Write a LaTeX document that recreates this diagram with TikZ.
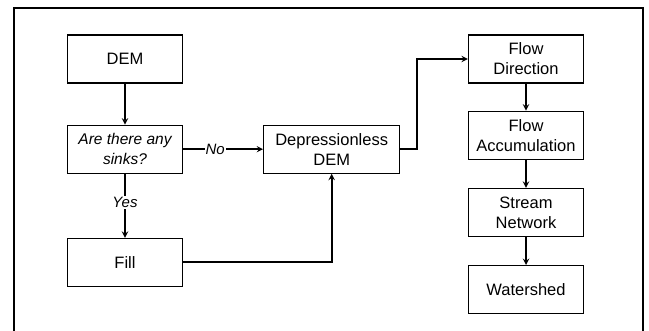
\documentclass[tikz,border=0pt]{standalone}
\usepackage{fontspec}
\setmainfont{Liberation Sans}
\usepackage{tikz}
\usetikzlibrary{arrows, positioning}

\begin{document}
\begin{tikzpicture}[
    node distance=41pt and 80pt,
    box/.style={draw, rectangle, line width=1.2pt, minimum width=115pt, minimum height=48pt, inner sep=0pt, align=center, font=\fontsize{16.5}{20}\selectfont},
    arrow/.style={line width=1.8pt,->,>=stealth},
    lbl/.style={fill=white, inner sep=1pt, font=\fontsize{15}{17}\selectfont\itshape}
]
\useasboundingbox (0,0) rectangle (649pt,-331pt);

% Frame
\draw[line width=1.6pt] (14pt,-331pt) -- (14pt,-8pt) -- (643pt,-8pt) -- (643pt,-331pt);

% Left column
\node (dem) [box] at (125pt,-59pt) {DEM};
\node (sinks) [box, below=of dem, font=\fontsize{15.5}{20}\selectfont\itshape] {Are there any\\sinks?};
\node (fill) [box, below=64pt of sinks] {Fill};

% Middle
\node (depless) [box, minimum width=136pt, right=of sinks] {Depressionless\\DEM};

% Right column
\node (flowdir) [box] at (526pt,-59pt) {Flow\\Direction};
\node (flowacc) [box, below=27pt of flowdir] {Flow\\Accumulation};
\node (stream) [box, below=28pt of flowacc] {Stream\\Network};
\node (shed) [box, below=28pt of stream] {Watershed};

% Arrows
\draw[arrow] (dem) -- (sinks);
\draw[arrow] (sinks) -- node[lbl, pos=0.45] {Yes} (fill);
\draw[arrow] (sinks) -- node[lbl, pos=0.4] {No} (depless);
\draw[arrow] (fill.east) -| (depless.south);
\draw[arrow] (depless.east) -- ++(17pt,0) |- (flowdir.west);
\draw[arrow] (flowdir) -- (flowacc);
\draw[arrow] (flowacc) -- (stream);
\draw[arrow] (stream) -- (shed);

\end{tikzpicture}
\end{document}
